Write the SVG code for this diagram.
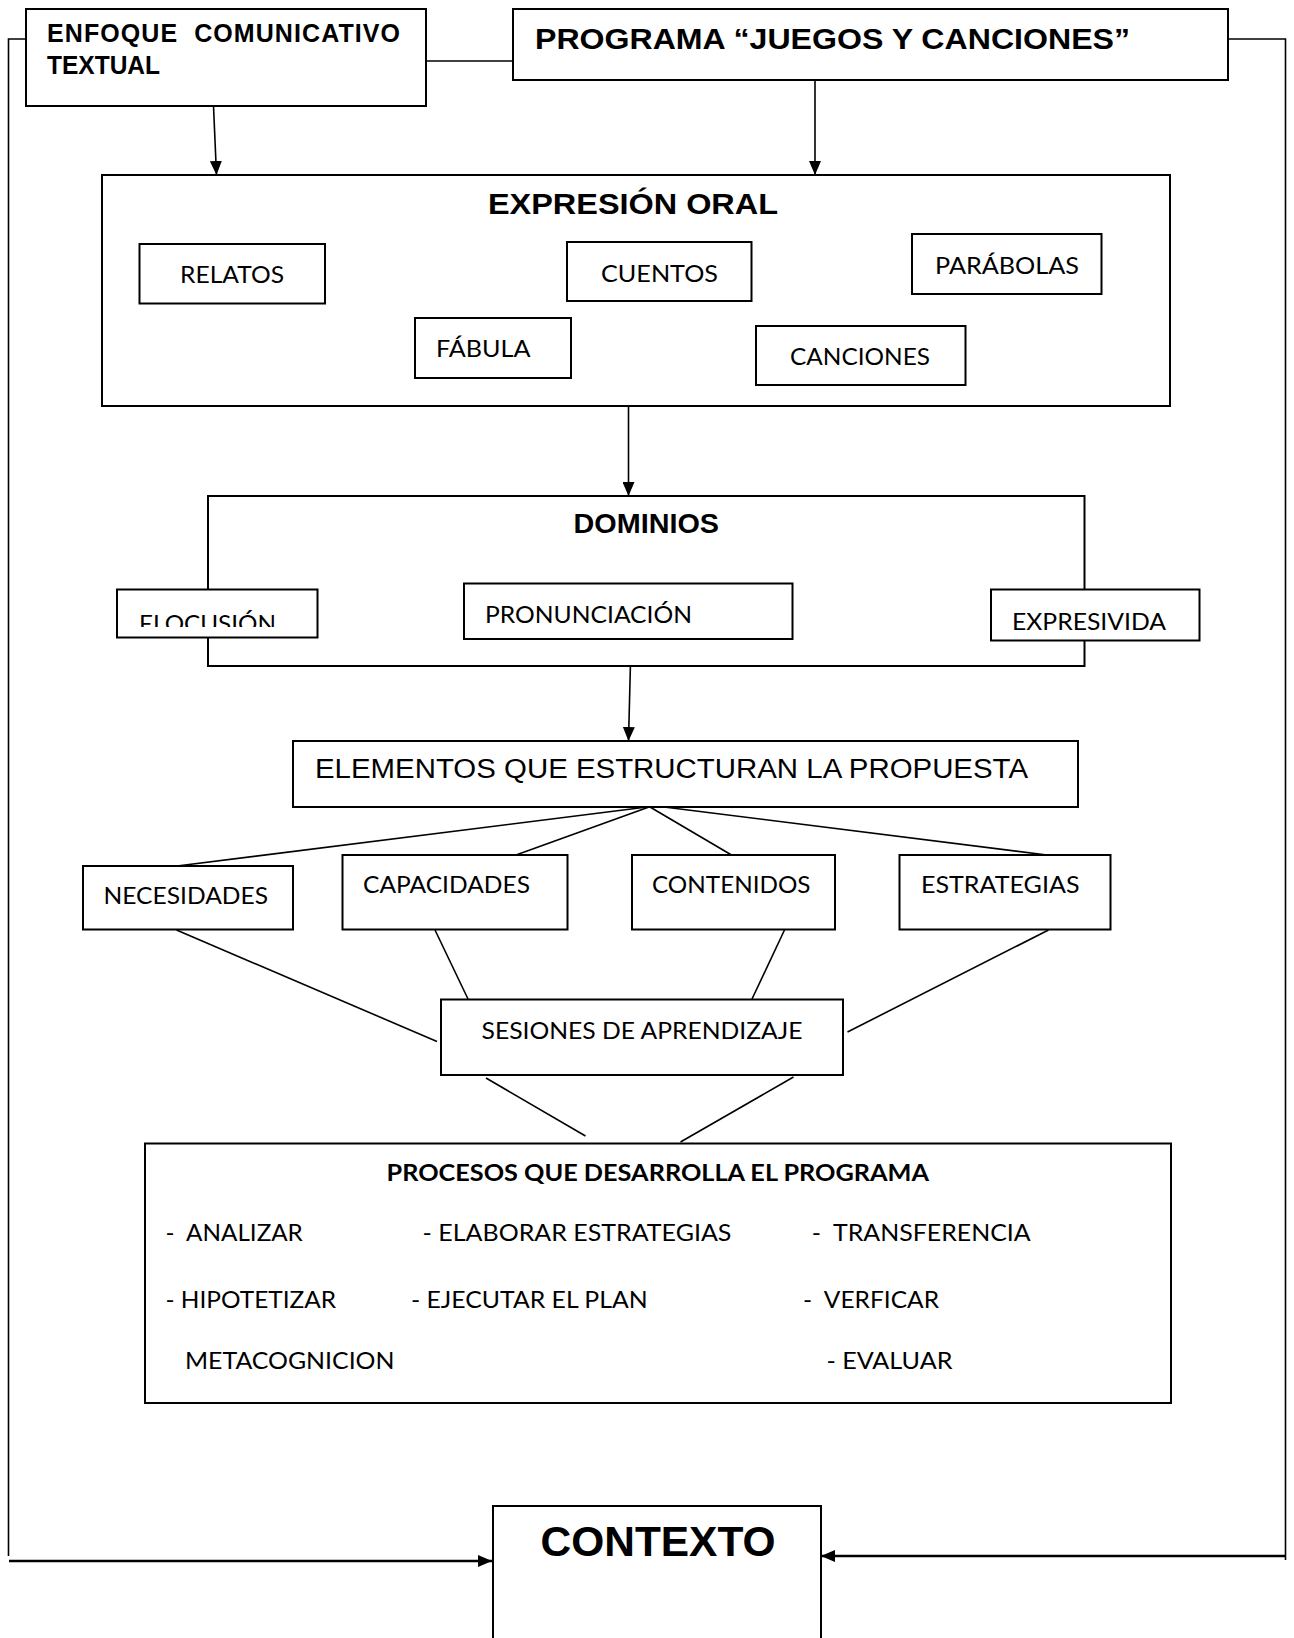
<svg xmlns="http://www.w3.org/2000/svg" width="1294" height="1638" viewBox="0 0 1294 1638">
<style>
.box{fill:#fff;stroke:#000;stroke-width:2}
.h{font-family:"Liberation Sans",Arial,sans-serif;font-weight:bold;fill:#000}
.a{font-family:"Liberation Sans",Arial,sans-serif;fill:#000}
.c{font-family:Lato,"Liberation Sans",sans-serif;font-size:24px;fill:#000}
.cb{font-family:Lato,"Liberation Sans",sans-serif;font-weight:bold;font-size:23px;fill:#000}
.ln{stroke:#000;stroke-width:1.6;fill:none}
.lt{stroke:#000;stroke-width:2.4;fill:none}
</style>
<defs>
<marker id="ah" markerUnits="userSpaceOnUse" markerWidth="14" markerHeight="12" refX="14" refY="6" orient="auto">
<path d="M0,0 L14,6 L0,12 z" fill="#000"/>
</marker>
<clipPath id="clipElo"><rect x="117" y="589" width="201" height="38"/></clipPath>
</defs>
<rect width="1294" height="1638" fill="#fff"/>

<g id="connectors">
<polyline class="ln" points="26,39 8.5,39 8.5,1556"/>
<line class="lt" x1="9" y1="1561" x2="492" y2="1561" marker-end="url(#ah)"/>
<line class="ln" x1="426" y1="61" x2="513" y2="61"/>
<polyline class="ln" points="1228,39 1285.5,39 1285.5,1560"/>
<line class="lt" x1="1285.5" y1="1556" x2="821" y2="1556" marker-end="url(#ah)"/>
<line class="ln" x1="213.5" y1="106" x2="216.5" y2="175" marker-end="url(#ah)"/>
<line class="ln" x1="815" y1="80" x2="815" y2="175" marker-end="url(#ah)"/>
<line class="ln" x1="628.5" y1="406" x2="628.5" y2="496" marker-end="url(#ah)"/>
<line class="ln" x1="630.5" y1="662" x2="628.5" y2="741" marker-end="url(#ah)"/>
<line class="ln" x1="647" y1="807" x2="177" y2="866"/>
<line class="ln" x1="649" y1="807" x2="516" y2="855"/>
<line class="ln" x1="650" y1="807" x2="731.5" y2="855"/>
<line class="ln" x1="664" y1="807" x2="1047" y2="855"/>
<line class="ln" x1="176.5" y1="930" x2="437" y2="1041.5"/>
<line class="ln" x1="435" y1="930" x2="468" y2="999"/>
<line class="ln" x1="784.5" y1="930" x2="752" y2="999"/>
<line class="ln" x1="1048.5" y1="930" x2="847.5" y2="1032"/>
<line class="ln" x1="486" y1="1078" x2="585.5" y2="1136"/>
<line class="ln" x1="793.5" y1="1077" x2="680.5" y2="1142"/>
</g>

<g id="enfoque">
<rect class="box" x="26" y="9" width="400" height="97"/>
<text class="h" font-size="25" x="47" y="42" textLength="353" lengthAdjust="spacing" xml:space="preserve">ENFOQUE  COMUNICATIVO</text>
<text class="h" font-size="25" x="47" y="74" textLength="113" lengthAdjust="spacingAndGlyphs">TEXTUAL</text>
</g>

<g id="programa">
<rect class="box" x="513" y="9" width="715" height="71"/>
<text class="h" font-size="29" x="535" y="49" textLength="595" lengthAdjust="spacingAndGlyphs">PROGRAMA “JUEGOS Y CANCIONES”</text>
</g>

<g id="expresion-oral">
<rect class="box" x="102" y="175" width="1068" height="231"/>
<text class="h" font-size="29" x="488" y="214" textLength="290" lengthAdjust="spacingAndGlyphs">EXPRESIÓN ORAL</text>
</g>
<g id="relatos">
<rect class="box" x="139.5" y="244" width="185.5" height="59.5"/>
<text class="c" x="180" y="283" textLength="104" lengthAdjust="spacingAndGlyphs">RELATOS</text>
</g>
<g id="cuentos">
<rect class="box" x="567" y="242" width="184.5" height="59"/>
<text class="c" x="601" y="282" textLength="117" lengthAdjust="spacingAndGlyphs">CUENTOS</text>
</g>
<g id="parabolas">
<rect class="box" x="912" y="234" width="189.5" height="60"/>
<text class="c" x="935" y="274" textLength="144" lengthAdjust="spacingAndGlyphs">PARÁBOLAS</text>
</g>
<g id="fabula">
<rect class="box" x="415" y="318" width="156" height="60"/>
<text class="c" x="436" y="357" textLength="94.5" lengthAdjust="spacingAndGlyphs">FÁBULA</text>
</g>
<g id="canciones">
<rect class="box" x="756" y="326" width="209.5" height="59"/>
<text class="c" x="790" y="365" textLength="140" lengthAdjust="spacingAndGlyphs">CANCIONES</text>
</g>

<g id="dominios">
<rect class="box" x="208" y="496" width="876.5" height="170"/>
<text class="h" font-size="27" x="573.5" y="533" textLength="145.5" lengthAdjust="spacingAndGlyphs">DOMINIOS</text>
</g>
<g id="elocusion">
<rect class="box" x="117" y="589.5" width="200.5" height="48"/>
<text class="c" x="139" y="631.5" textLength="137" lengthAdjust="spacingAndGlyphs" clip-path="url(#clipElo)">ELOCUSIÓN</text>
</g>
<g id="pronunciacion">
<rect class="box" x="464" y="583.5" width="328.5" height="55.5"/>
<text class="c" x="485" y="623" textLength="207" lengthAdjust="spacingAndGlyphs">PRONUNCIACIÓN</text>
</g>
<g id="expresivida">
<rect class="box" x="991" y="589.5" width="208.5" height="51"/>
<text class="c" x="1012" y="629.5" textLength="154" lengthAdjust="spacingAndGlyphs">EXPRESIVIDA</text>
</g>

<g id="elementos">
<rect class="box" x="293" y="741" width="785" height="66"/>
<text class="a" font-size="27" x="315" y="778" textLength="713" lengthAdjust="spacingAndGlyphs">ELEMENTOS QUE ESTRUCTURAN LA PROPUESTA</text>
</g>
<g id="necesidades">
<rect class="box" x="83" y="866" width="210" height="63.5"/>
<text class="c" x="103.5" y="904" textLength="164.5" lengthAdjust="spacingAndGlyphs">NECESIDADES</text>
</g>
<g id="capacidades">
<rect class="box" x="342.5" y="855" width="225" height="74.5"/>
<text class="c" x="363" y="893" textLength="167" lengthAdjust="spacingAndGlyphs">CAPACIDADES</text>
</g>
<g id="contenidos">
<rect class="box" x="632" y="855" width="203" height="74.5"/>
<text class="c" x="652" y="893" textLength="158.5" lengthAdjust="spacingAndGlyphs">CONTENIDOS</text>
</g>
<g id="estrategias">
<rect class="box" x="899.5" y="855" width="211" height="74.5"/>
<text class="c" x="921" y="893" textLength="158.5" lengthAdjust="spacingAndGlyphs">ESTRATEGIAS</text>
</g>

<g id="sesiones">
<rect class="box" x="441" y="999.5" width="402" height="75.5"/>
<text class="c" x="481.5" y="1039" textLength="321" lengthAdjust="spacingAndGlyphs">SESIONES DE APRENDIZAJE</text>
</g>

<g id="procesos">
<rect class="box" x="145" y="1143.5" width="1026" height="259.5"/>
<text class="cb" x="386.5" y="1181" textLength="542.5" lengthAdjust="spacingAndGlyphs">PROCESOS QUE DESARROLLA EL PROGRAMA</text>
<text class="c" x="165.5" y="1241" textLength="137.3" lengthAdjust="spacingAndGlyphs" xml:space="preserve">-  ANALIZAR</text>
<text class="c" x="422.6" y="1241" textLength="308.8" lengthAdjust="spacingAndGlyphs">- ELABORAR ESTRATEGIAS</text>
<text class="c" x="811.7" y="1241" textLength="219" lengthAdjust="spacingAndGlyphs" xml:space="preserve">-  TRANSFERENCIA</text>
<text class="c" x="165.5" y="1308" textLength="170.5" lengthAdjust="spacingAndGlyphs">- HIPOTETIZAR</text>
<text class="c" x="411" y="1308" textLength="236.6" lengthAdjust="spacingAndGlyphs">- EJECUTAR EL PLAN</text>
<text class="c" x="803" y="1308" textLength="136" lengthAdjust="spacingAndGlyphs" xml:space="preserve">-  VERFICAR</text>
<text class="c" x="185" y="1369" textLength="209.5" lengthAdjust="spacingAndGlyphs">METACOGNICION</text>
<text class="c" x="826.4" y="1369" textLength="126" lengthAdjust="spacingAndGlyphs">- EVALUAR</text>
</g>

<g id="contexto">
<rect class="box" x="493" y="1506" width="328" height="160"/>
<text class="h" font-size="42" x="540.6" y="1556" textLength="235" lengthAdjust="spacingAndGlyphs">CONTEXTO</text>
</g>
</svg>
